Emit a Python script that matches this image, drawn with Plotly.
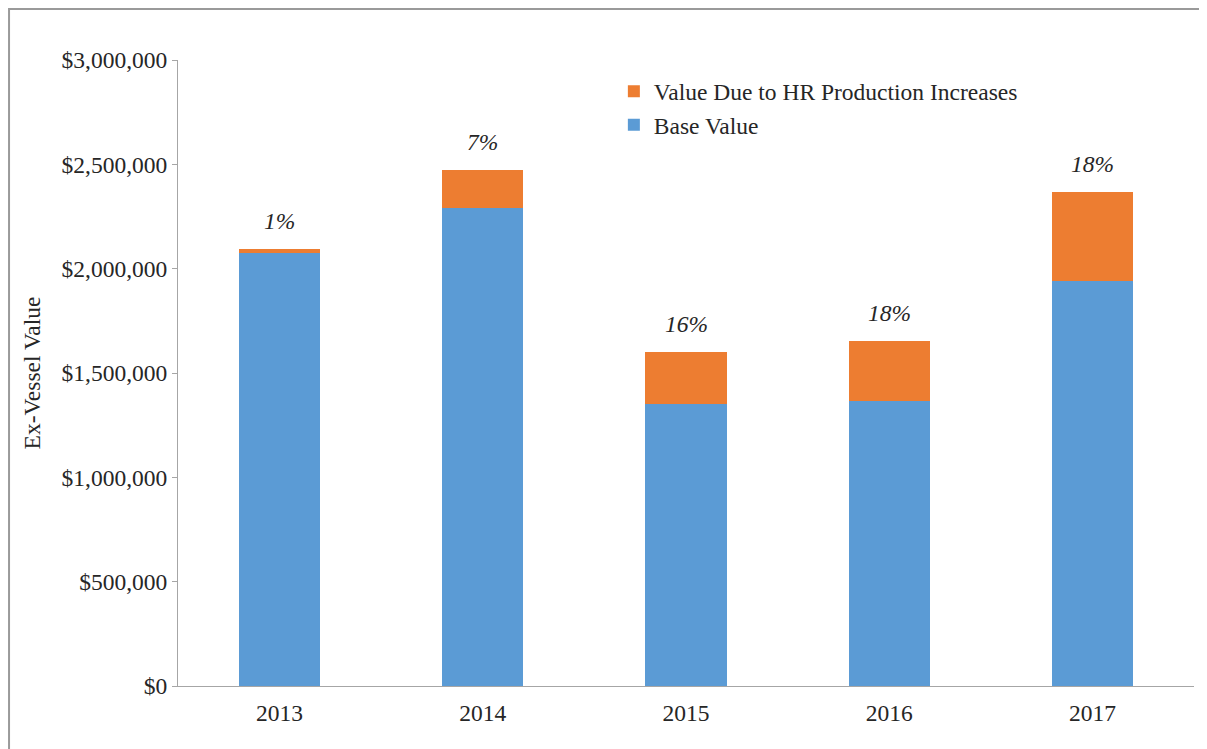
import plotly.graph_objects as go

years = ["2013", "2014", "2015", "2016", "2017"]
base_value = [2077000, 2289000, 1350000, 1366000, 1942000]
hr_increase = [19000, 182000, 252000, 289000, 427000]
pct_labels = ["1%", "7%", "16%", "18%", "18%"]

colors = {"base": "#5B9BD5", "hr": "#ED7D31"}
font_family = "Liberation Serif, Times New Roman, serif"
text_size = 23.5

fig = go.Figure()

fig.add_trace(
    go.Bar(
        x=years,
        y=base_value,
        name="Base Value",
        legendrank=2,
        marker=dict(color=colors["base"], line=dict(width=0)),
        width=0.4,
    )
)
fig.add_trace(
    go.Bar(
        x=years,
        y=hr_increase,
        name="Value Due to HR Production Increases",
        legendrank=1,
        marker=dict(color=colors["hr"], line=dict(width=0)),
        width=0.4,
    )
)

# percentage labels above each stack (x = category index)
totals = [b + h for b, h in zip(base_value, hr_increase)]
for i, (tot, lab) in enumerate(zip(totals, pct_labels)):
    fig.add_annotation(
        x=i,
        y=tot,
        text="<i>" + lab + "</i>",
        showarrow=False,
        yanchor="bottom",
        yshift=13,
        font=dict(family=font_family, size=text_size, color="#262626"),
    )

# outer frame around the chart
fig.add_shape(
    type="rect",
    xref="paper",
    yref="paper",
    x0=-0.1663,
    x1=1.0098,
    y0=-0.2,
    y1=1.0815,
    line=dict(color="#9a9a9a", width=2),
    fillcolor="rgba(0,0,0,0)",
)

fig.update_layout(
    barmode="stack",
    width=1207,
    height=749,
    margin=dict(l=170, r=21, t=52, b=71),
    paper_bgcolor="white",
    plot_bgcolor="white",
    font=dict(family=font_family, size=text_size, color="#262626"),
    showlegend=True,
    legend=dict(
        x=0.429,
        y=0.985,
        xanchor="left",
        yanchor="top",
        bgcolor="rgba(0,0,0,0)",
        font=dict(family=font_family, size=text_size, color="#262626"),
        traceorder="normal",
        itemwidth=30,
    ),
    xaxis=dict(
        type="category",
        range=[-0.5, 4.5],
        showline=True,
        linecolor="#a6a6a6",
        linewidth=1,
        ticks="",
        ticklabelstandoff=6,
        showgrid=False,
        tickfont=dict(size=text_size),
    ),
    yaxis=dict(
        range=[0, 3000000],
        tickvals=[0, 500000, 1000000, 1500000, 2000000, 2500000, 3000000],
        tickformat="$,.0f",
        showline=True,
        linecolor="#a6a6a6",
        linewidth=1,
        ticks="outside",
        ticklen=5,
        tickcolor="#a6a6a6",
        showgrid=False,
        zeroline=False,
        tickfont=dict(size=text_size),
        title=dict(text="Ex-Vessel Value", font=dict(size=text_size), standoff=14),
    ),
)

fig.write_html("out.html")
